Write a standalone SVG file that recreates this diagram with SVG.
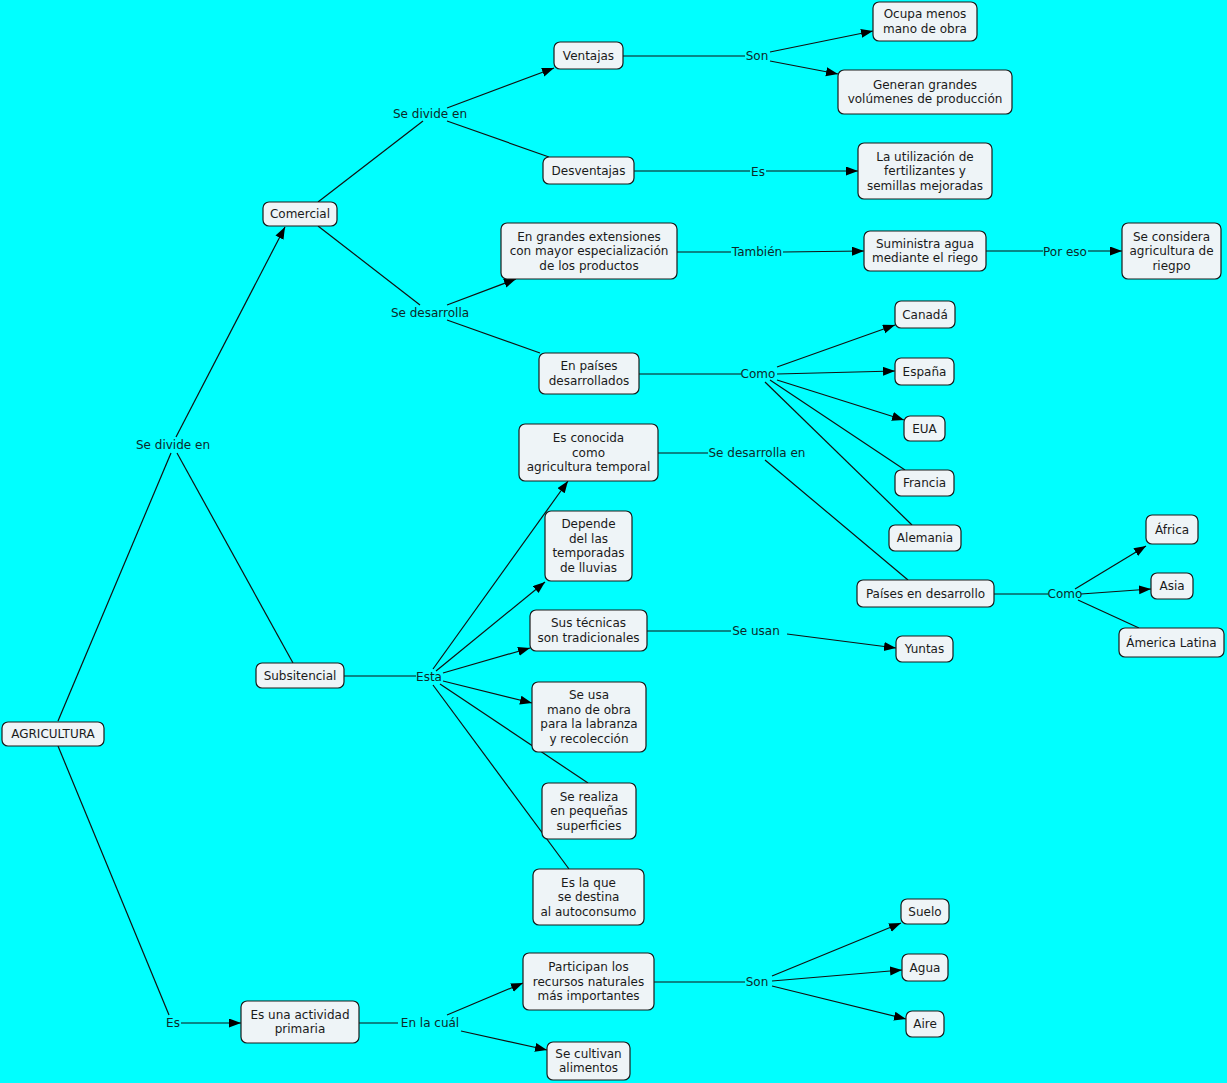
<svg xmlns="http://www.w3.org/2000/svg" width="1227" height="1083" viewBox="0 0 1227 1083">
<defs>
<marker id="arr" markerWidth="12" markerHeight="10" refX="12" refY="4.5" orient="auto" markerUnits="userSpaceOnUse">
<path d="M0,0 L12,4.5 L0,9 z" fill="#000"/>
</marker>
<style>
.n rect{fill:#EEF4F7;stroke:#1a1a1a;stroke-width:1.2}
.n text{font-family:"DejaVu Sans",Verdana,sans-serif;font-size:12px;fill:#1a1a1a;text-anchor:middle}
.lbl{font-family:"DejaVu Sans",Verdana,sans-serif;font-size:12px;fill:#0d2a2a;text-anchor:middle}
.c line{stroke:#111;stroke-width:1.2;fill:none}
.c line.a{marker-end:url(#arr)}
</style>
</defs>
<rect x="0" y="0" width="1227" height="1083" fill="#00FFFF"/>
<g id="connectors" class="c">
<line x1="58" y1="721" x2="171" y2="453"/>
<line class="a" x1="176" y1="437" x2="285" y2="227"/>
<line x1="177" y1="453" x2="293" y2="663"/>
<line x1="58" y1="746" x2="169" y2="1015"/>
<line class="a" x1="181" y1="1023" x2="241" y2="1023"/>
<line x1="318" y1="202" x2="423" y2="121"/>
<line class="a" x1="447" y1="108" x2="554" y2="68"/>
<line x1="447" y1="121" x2="549" y2="157"/>
<line x1="623" y1="56" x2="745" y2="56"/>
<line class="a" x1="770" y1="52" x2="873" y2="31"/>
<line class="a" x1="770" y1="61" x2="838" y2="74"/>
<line x1="634" y1="171" x2="750" y2="171"/>
<line class="a" x1="766" y1="171" x2="858" y2="171"/>
<line x1="318" y1="226" x2="420" y2="305"/>
<line class="a" x1="447" y1="305" x2="516" y2="279"/>
<line x1="447" y1="320" x2="540" y2="353"/>
<line x1="677" y1="252" x2="731" y2="252"/>
<line class="a" x1="783" y1="252" x2="864" y2="251"/>
<line x1="986" y1="251" x2="1043" y2="251"/>
<line class="a" x1="1088" y1="251" x2="1122" y2="251"/>
<line x1="639" y1="374" x2="741" y2="374"/>
<line class="a" x1="777" y1="367" x2="895" y2="325"/>
<line class="a" x1="777" y1="374" x2="895" y2="371"/>
<line class="a" x1="777" y1="380" x2="904" y2="420"/>
<line x1="770" y1="380" x2="905" y2="470"/>
<line x1="765" y1="382" x2="912" y2="525"/>
<line x1="658" y1="453" x2="708" y2="453"/>
<line x1="765" y1="460" x2="908" y2="580"/>
<line x1="994" y1="594" x2="1048" y2="594"/>
<line class="a" x1="1075" y1="589" x2="1146" y2="546"/>
<line class="a" x1="1081" y1="594" x2="1151" y2="589"/>
<line x1="1078" y1="600" x2="1139" y2="628"/>
<line x1="344" y1="676" x2="416" y2="676"/>
<line class="a" x1="433" y1="669" x2="568" y2="481"/>
<line class="a" x1="436" y1="671" x2="545" y2="582"/>
<line class="a" x1="443" y1="673" x2="530" y2="648"/>
<line class="a" x1="443" y1="681" x2="532" y2="703"/>
<line x1="440" y1="684" x2="588" y2="783"/>
<line x1="433" y1="685" x2="569" y2="869"/>
<line x1="647" y1="631" x2="731" y2="631"/>
<line class="a" x1="787" y1="634" x2="896" y2="648"/>
<line x1="359" y1="1023" x2="398" y2="1023"/>
<line class="a" x1="447" y1="1015" x2="523" y2="983"/>
<line class="a" x1="461" y1="1031" x2="547" y2="1050"/>
<line x1="654" y1="982" x2="745" y2="982"/>
<line class="a" x1="772" y1="976" x2="901" y2="923"/>
<line class="a" x1="772" y1="981" x2="902" y2="970"/>
<line class="a" x1="772" y1="986" x2="906" y2="1019"/>
</g>
<g id="labels">
<text class="lbl" x="173" y="449">Se divide en</text>
<text class="lbl" x="173" y="1027">Es</text>
<text class="lbl" x="430" y="118">Se divide en</text>
<text class="lbl" x="430" y="317">Se desarrolla</text>
<text class="lbl" x="757" y="60">Son</text>
<text class="lbl" x="758" y="176">Es</text>
<text class="lbl" x="757" y="256">También</text>
<text class="lbl" x="1065" y="256">Por eso</text>
<text class="lbl" x="758" y="378">Como</text>
<text class="lbl" x="757" y="457">Se desarrolla en</text>
<text class="lbl" x="1065" y="598">Como</text>
<text class="lbl" x="429" y="681">Esta</text>
<text class="lbl" x="756" y="635">Se usan</text>
<text class="lbl" x="430" y="1027">En la cuál</text>
<text class="lbl" x="757" y="986">Son</text>
</g>
<g id="n-agricultura" class="n"><rect x="2" y="722" width="102" height="24" rx="6"/><text x="53" y="738">AGRICULTURA</text></g>
<g id="n-comercial" class="n"><rect x="263" y="202" width="74" height="24" rx="6"/><text x="300" y="218">Comercial</text></g>
<g id="n-subsitencial" class="n"><rect x="256" y="663" width="88" height="25" rx="6"/><text x="300" y="680">Subsitencial</text></g>
<g id="n-actividad" class="n"><rect x="241" y="1001" width="118" height="42" rx="6"/><text x="300" y="1018.7"><tspan x="300">Es una actividad</tspan><tspan x="300" dy="14.5">primaria</tspan></text></g>
<g id="n-ventajas" class="n"><rect x="554" y="42" width="69" height="27" rx="6"/><text x="588.5" y="59.5">Ventajas</text></g>
<g id="n-desventajas" class="n"><rect x="543" y="157" width="91" height="27" rx="6"/><text x="588.5" y="174.5">Desventajas</text></g>
<g id="n-ocupa" class="n"><rect x="873" y="2" width="104" height="39" rx="6"/><text x="925" y="18.2"><tspan x="925">Ocupa menos</tspan><tspan x="925" dy="14.5">mano de obra</tspan></text></g>
<g id="n-generan" class="n"><rect x="838" y="70" width="174" height="44" rx="6"/><text x="925" y="88.7"><tspan x="925">Generan grandes</tspan><tspan x="925" dy="14.5">volúmenes de producción</tspan></text></g>
<g id="n-utilizacion" class="n"><rect x="858" y="143" width="134" height="56" rx="6"/><text x="925" y="160.5"><tspan x="925">La utilización de</tspan><tspan x="925" dy="14.5">fertilizantes y</tspan><tspan x="925" dy="14.5">semillas mejoradas</tspan></text></g>
<g id="n-grandes" class="n"><rect x="501" y="223" width="176" height="56" rx="6"/><text x="589" y="240.5"><tspan x="589">En grandes extensiones</tspan><tspan x="589" dy="14.5">con mayor especialización</tspan><tspan x="589" dy="14.5">de los productos</tspan></text></g>
<g id="n-suministra" class="n"><rect x="864" y="231" width="122" height="40" rx="6"/><text x="925" y="247.7"><tspan x="925">Suministra agua</tspan><tspan x="925" dy="14.5">mediante el riego</tspan></text></g>
<g id="n-riego" class="n"><rect x="1122" y="223" width="99" height="56" rx="6"/><text x="1171.5" y="240.5"><tspan x="1171.5">Se considera</tspan><tspan x="1171.5" dy="14.5">agricultura de</tspan><tspan x="1171.5" dy="14.5">riegpo</tspan></text></g>
<g id="n-paises-desarrollados" class="n"><rect x="539" y="353" width="100" height="41" rx="6"/><text x="589" y="370.2"><tspan x="589">En países</tspan><tspan x="589" dy="14.5">desarrollados</tspan></text></g>
<g id="n-canada" class="n"><rect x="895" y="301" width="60" height="27" rx="6"/><text x="925" y="318.5">Canadá</text></g>
<g id="n-espana" class="n"><rect x="895" y="358" width="59" height="27" rx="6"/><text x="924.5" y="375.5">España</text></g>
<g id="n-eua" class="n"><rect x="904" y="416" width="41" height="25" rx="6"/><text x="924.5" y="432.5">EUA</text></g>
<g id="n-francia" class="n"><rect x="895" y="470" width="59" height="26" rx="6"/><text x="924.5" y="487">Francia</text></g>
<g id="n-alemania" class="n"><rect x="889" y="525" width="72" height="26" rx="6"/><text x="925" y="542">Alemania</text></g>
<g id="n-temporal" class="n"><rect x="519" y="424" width="139" height="57" rx="6"/><text x="588.5" y="442"><tspan x="588.5">Es conocida</tspan><tspan x="588.5" dy="14.5">como</tspan><tspan x="588.5" dy="14.5">agricultura temporal</tspan></text></g>
<g id="n-depende" class="n"><rect x="545" y="511" width="87" height="70" rx="6"/><text x="588.5" y="528.3"><tspan x="588.5">Depende</tspan><tspan x="588.5" dy="14.5">del las</tspan><tspan x="588.5" dy="14.5">temporadas</tspan><tspan x="588.5" dy="14.5">de lluvias</tspan></text></g>
<g id="n-tecnicas" class="n"><rect x="530" y="610" width="117" height="41" rx="6"/><text x="588.5" y="627.2"><tspan x="588.5">Sus técnicas</tspan><tspan x="588.5" dy="14.5">son tradicionales</tspan></text></g>
<g id="n-manoobra" class="n"><rect x="532" y="682" width="114" height="70" rx="6"/><text x="589" y="699.3"><tspan x="589">Se usa</tspan><tspan x="589" dy="14.5">mano de obra</tspan><tspan x="589" dy="14.5">para la labranza</tspan><tspan x="589" dy="14.5">y recolección</tspan></text></g>
<g id="n-superficies" class="n"><rect x="542" y="783" width="94" height="56" rx="6"/><text x="589" y="800.5"><tspan x="589">Se realiza</tspan><tspan x="589" dy="14.5">en pequeñas</tspan><tspan x="589" dy="14.5">superficies</tspan></text></g>
<g id="n-autoconsumo" class="n"><rect x="533" y="869" width="111" height="56" rx="6"/><text x="588.5" y="886.5"><tspan x="588.5">Es la que</tspan><tspan x="588.5" dy="14.5">se destina</tspan><tspan x="588.5" dy="14.5">al autoconsumo</tspan></text></g>
<g id="n-en-desarrollo" class="n"><rect x="857" y="580" width="137" height="27" rx="6"/><text x="925.5" y="597.5">Países en desarrollo</text></g>
<g id="n-africa" class="n"><rect x="1146" y="515" width="52" height="29" rx="6"/><text x="1172" y="533.5">África</text></g>
<g id="n-asia" class="n"><rect x="1151" y="573" width="42" height="26" rx="6"/><text x="1172" y="590">Asia</text></g>
<g id="n-america" class="n"><rect x="1119" y="628" width="105" height="29" rx="6"/><text x="1171.5" y="646.5">Ámerica Latina</text></g>
<g id="n-yuntas" class="n"><rect x="896" y="636" width="57" height="26" rx="6"/><text x="924.5" y="653">Yuntas</text></g>
<g id="n-participan" class="n"><rect x="523" y="953" width="131" height="57" rx="6"/><text x="588.5" y="971"><tspan x="588.5">Participan los</tspan><tspan x="588.5" dy="14.5">recursos naturales</tspan><tspan x="588.5" dy="14.5">más importantes</tspan></text></g>
<g id="n-cultivan" class="n"><rect x="547" y="1042" width="83" height="38" rx="6"/><text x="588.5" y="1057.7"><tspan x="588.5">Se cultivan</tspan><tspan x="588.5" dy="14.5">alimentos</tspan></text></g>
<g id="n-suelo" class="n"><rect x="901" y="899" width="48" height="25" rx="6"/><text x="925" y="915.5">Suelo</text></g>
<g id="n-agua" class="n"><rect x="902" y="954" width="46" height="27" rx="6"/><text x="925" y="971.5">Agua</text></g>
<g id="n-aire" class="n"><rect x="906" y="1011" width="38" height="26" rx="6"/><text x="925" y="1028">Aire</text></g>
</svg>
